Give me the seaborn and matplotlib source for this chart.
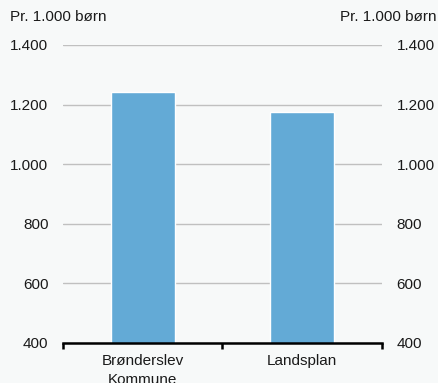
import matplotlib
matplotlib.use('Agg')
import matplotlib.pyplot as plt
import seaborn as sns
import pandas as pd
from matplotlib.ticker import FixedLocator, FuncFormatter

categories = ['Brønderslev\nKommune', 'Landsplan']
values = [1243, 1175]
yticks = [400, 600, 800, 1000, 1200, 1400]

bg = '#f7f9f9'
bar_color = '#63aad6'
fs = 11

sns.set_style('white')
plt.rcParams['font.family'] = ['Liberation Sans', 'DejaVu Sans']
plt.rcParams['font.size'] = fs

df = pd.DataFrame({'cat': categories, 'val': values})

fig = plt.figure(figsize=(4.39, 3.83), dpi=100, facecolor=bg)
ax = fig.add_axes([63 / 439, 1 - 343 / 383, (382 - 63) / 439, (343 - 45) / 383])
ax.set_facecolor(bg)

sns.barplot(data=df, x='cat', y='val', color=bar_color, width=0.4,
            saturation=1, ax=ax, zorder=3)

ax.set_ylim(400, 1400)
ax.set_xlim(-0.5, 1.5)
ax.set_yticks(yticks)
ax.yaxis.set_major_formatter(FuncFormatter(lambda v, p: f'{int(v):,}'.replace(',', '.')))
ax.grid(axis='y', color='#c0c0c0', linewidth=1, zorder=0)
ax.set_axisbelow(True)

for s in ['top', 'left', 'right']:
    ax.spines[s].set_visible(False)
ax.spines['bottom'].set_color('black')
ax.spines['bottom'].set_linewidth(1.8)
ax.spines['bottom'].set_zorder(4)

ax.tick_params(axis='y', length=0, pad=10.5, labelsize=fs, labelcolor='#1a1a1a',
               left=True, right=True, labelleft=True, labelright=True)
ax.tick_params(axis='x', which='major', length=0, pad=8, labelsize=fs, labelcolor='#1a1a1a')
ax.xaxis.set_minor_locator(FixedLocator([-0.5, 0.5, 1.5]))
ax.tick_params(axis='x', which='minor', bottom=True, length=4, width=1.8,
               color='black', direction='out')

ax.set_xlabel('')
ax.set_ylabel('')
for lbl in ax.get_xticklabels():
    lbl.set_linespacing(1.4)

fig.text(10 / 439, 1 - 17 / 383, 'Pr. 1.000 børn', ha='left', va='center', fontsize=fs, color='#1a1a1a')
fig.text(437 / 439, 1 - 17 / 383, 'Pr. 1.000 børn', ha='right', va='center', fontsize=fs, color='#1a1a1a')

fig.savefig('out.png', dpi=100, facecolor=bg)
